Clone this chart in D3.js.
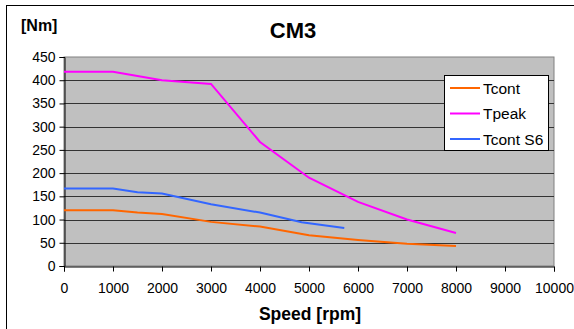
<!DOCTYPE html>
<html>
<head>
<meta charset="utf-8">
<script src="https://cdn.jsdelivr.net/npm/d3@7"></script>
<style>
  body { margin: 0; background: #fff; }
  svg { display: block; font-family: "Liberation Sans", Arial, sans-serif; }
</style>
</head>
<body>
<div id="chart"></div>
<script>
// data
const tcontSpeed = [0, 1000, 1500, 2000, 3000, 4000, 5000, 6000, 7000, 8000];
const tcontVal   = [120, 120, 115, 112, 95, 85, 66, 56, 48, 43];
const tpeakSpeed = [0, 1000, 2000, 3000, 4000, 5000, 6000, 7000, 8000];
const tpeakVal   = [418, 418, 400, 392, 267, 190, 138, 100, 71];
const s6Speed    = [0, 1000, 1500, 2000, 3000, 4000, 4850, 5720];
const s6Val      = [167, 167, 159, 156, 133, 115, 94, 82];
const xTicks = d3.range(0, 10001, 1000);
const yTicks = d3.range(0, 451, 50);

const width = 574, height = 329;
const plot = {left: 64, right: 554, top: 57, bottom: 266};

const svg = d3.select("#chart").append("svg")
  .attr("width", width).attr("height", height);

// outer chart frame
svg.append("rect")
  .attr("x", 6.5).attr("y", 5.5)
  .attr("width", 600).attr("height", 400)
  .attr("fill", "#fff").attr("stroke", "#000").attr("stroke-width", 1);

const x = d3.scaleLinear().domain([0, 10000]).range([plot.left, plot.right]);
const y = d3.scaleLinear().domain([0, 450]).range([plot.bottom, plot.top]);

// plot area
svg.append("rect")
  .attr("x", plot.left).attr("y", plot.top)
  .attr("width", plot.right - plot.left).attr("height", plot.bottom - plot.top)
  .attr("fill", "#c0c0c0").attr("stroke", "#808080");

// horizontal grid
svg.append("g").selectAll("line")
  .data(yTicks.filter(d => d > 0 && d < 450))
  .join("line")
    .attr("x1", plot.left).attr("x2", plot.right)
    .attr("y1", d => Math.round(y(d)) + 0.5).attr("y2", d => Math.round(y(d)) + 0.5)
    .attr("stroke", "#333").attr("stroke-width", 1);

// axes
const yAxis = svg.append("g")
  .attr("transform", `translate(${plot.left + 0.5},0)`)
  .call(d3.axisLeft(y).tickValues(yTicks).tickSize(5).tickPadding(4));
const xAxis = svg.append("g")
  .attr("transform", `translate(0,${plot.bottom + 0.5})`)
  .call(d3.axisBottom(x).tickValues(xTicks).tickSize(5).tickPadding(12).tickFormat(d3.format("d")));

[yAxis, xAxis].forEach(a => {
  a.select(".domain").attr("stroke", "#000");
  a.selectAll(".tick line").attr("stroke", "#000");
  a.selectAll("text").attr("fill", "#000").style("font-size", "14px")
    .style("font-family", "'Liberation Sans', Arial, sans-serif");
});

// series
const series = [
  {name: "Tcont", xs: tcontSpeed, ys: tcontVal, color: "#ff6600"},
  {name: "Tpeak", xs: tpeakSpeed, ys: tpeakVal, color: "#ff00ff"},
  {name: "Tcont S6", xs: s6Speed, ys: s6Val, color: "#3366ff"}
];
const line = d3.line().x(d => x(d[0])).y(d => y(d[1]));
svg.append("g").selectAll("path")
  .data(series)
  .join("path")
    .attr("d", s => line(s.xs.map((v, i) => [v, s.ys[i]])))
    .attr("fill", "none")
    .attr("stroke", s => s.color)
    .attr("stroke-width", 2);

// legend
const lg = svg.append("g");
lg.append("rect")
  .attr("x", 444.5).attr("y", 75.5).attr("width", 104).attr("height", 75)
  .attr("fill", "#fff").attr("stroke", "#000");
const item = lg.selectAll("g.item").data(series).join("g")
  .attr("transform", (d, i) => `translate(0,${88 + i * 25.5})`);
item.append("line")
  .attr("x1", 450).attr("x2", 480).attr("y1", 0).attr("y2", 0)
  .attr("stroke", d => d.color).attr("stroke-width", 2);
item.append("text")
  .attr("x", 483).attr("y", 5.5)
  .style("font-size", "15.5px")
  .text(d => d.name);

// titles
svg.append("text")
  .attr("x", 293).attr("y", 38)
  .attr("text-anchor", "middle")
  .style("font-size", "22px").style("font-weight", "bold")
  .text("CM3");
svg.append("text")
  .attr("x", 21).attr("y", 31)
  .style("font-size", "16px").style("font-weight", "bold")
  .text("[Nm]");
svg.append("text")
  .attr("x", 310).attr("y", 320)
  .attr("text-anchor", "middle")
  .style("font-size", "17.5px").style("font-weight", "bold")
  .text("Speed [rpm]");
</script>
</body>
</html>
